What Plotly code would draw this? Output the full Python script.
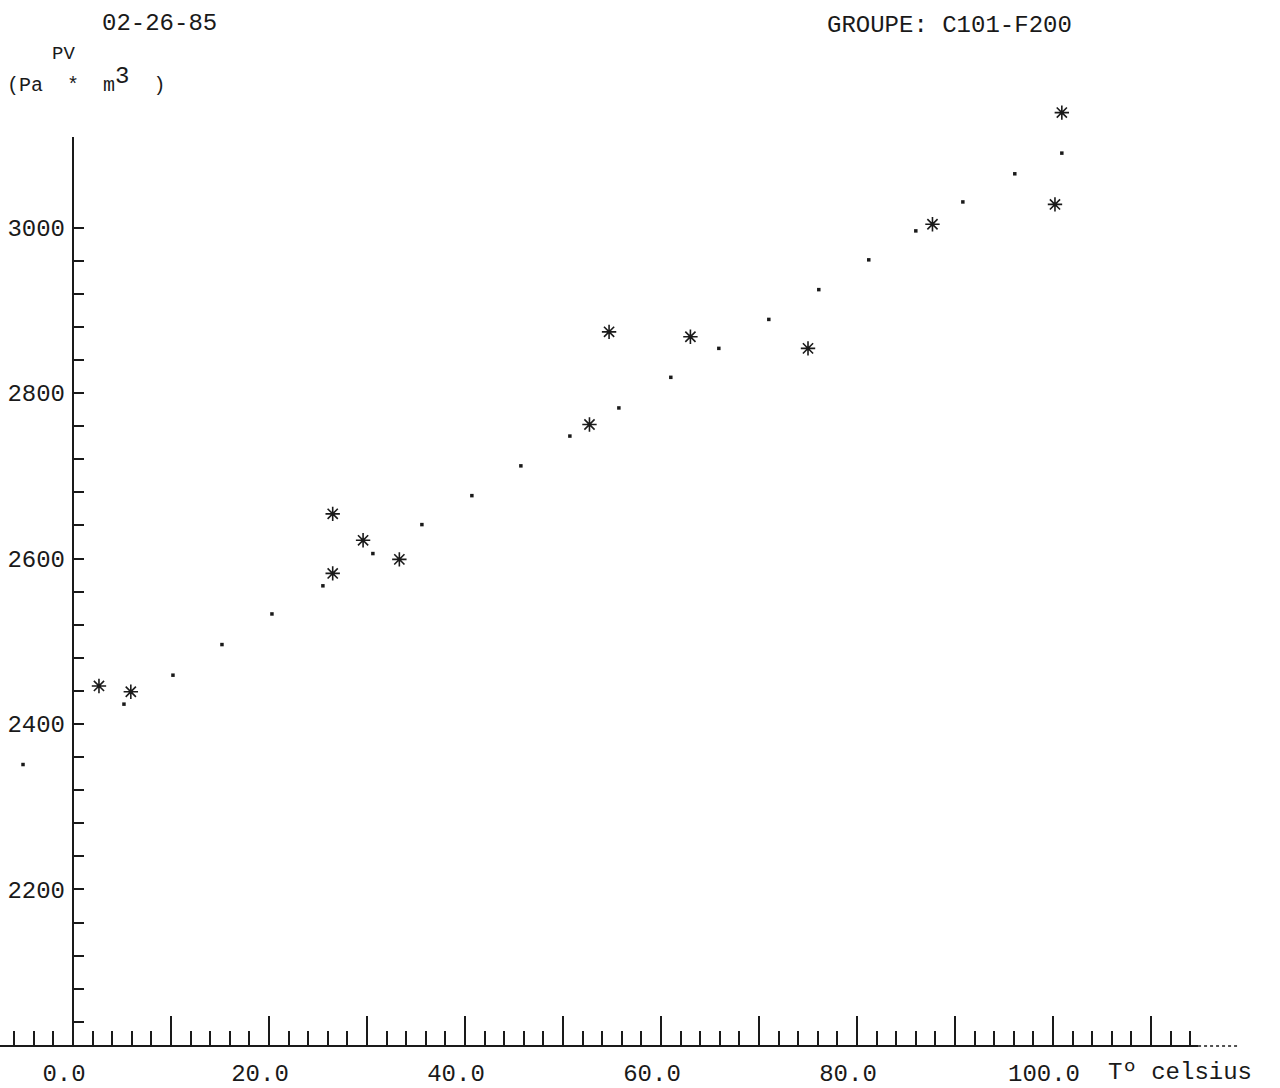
import plotly.graph_objects as go

# ---- data ----
dot_x = [-5.1, 5.2, 10.2, 15.2, 20.3, 25.5, 30.6, 35.6, 40.7, 45.7, 50.7,
         55.7, 61.0, 65.9, 71.0, 76.1, 81.2, 86.0, 90.8, 96.1, 100.9]
dot_y = [2351, 2424, 2459, 2496, 2533, 2567, 2606, 2641, 2676, 2712, 2748,
         2782, 2819, 2854, 2889, 2925, 2961, 2996, 3031, 3065, 3090]

star_x = [2.65, 5.9, 26.5, 26.5, 29.6, 33.3, 52.7, 54.7, 63.0, 75.0, 87.7, 100.2, 100.9]
star_y = [2446, 2439, 2654, 2582, 2622, 2599, 2762, 2874, 2868, 2854, 3004, 3028, 3139]

x_label_vals = [0, 20, 40, 60, 80, 100]
x_label_text = ["0.0", "20.0", "40.0", "60.0", "80.0", "100.0"]
x_long_unlabeled = [10, 30, 50, 70, 90, 110]
x_minor = [v for v in range(-6, 115, 2) if v % 10 != 0]

y_major = [2200, 2400, 2600, 2800, 3000]
y_major_text = ["2200", "2400", "2600", "2800", "3000"]
y_minor = [v for v in range(2040, 3000, 40) if v % 200 != 0]

X_RANGE = [-7.449, 119.08]
Y_RANGE = [2010.8, 3154.2]
Y_AXIS_TOP = 3109.6
X_AXIS_SOLID_END = 114.8

INK = "#1a1a1a"
FONT = "Liberation Mono"

fig = go.Figure()
fig.add_trace(go.Scatter(
    x=dot_x, y=dot_y, mode="markers",
    marker=dict(symbol="square", size=3.5, color=INK),
    cliponaxis=False, hoverinfo="skip"))
fig.add_trace(go.Scatter(
    x=star_x, y=star_y, mode="markers",
    marker=dict(symbol="asterisk-open", size=12, color=INK,
                line=dict(color=INK, width=1.6)),
    cliponaxis=False, hoverinfo="skip"))
# empty trace so the overlay axis (long unlabeled ticks) is drawn
fig.add_trace(go.Scatter(x=[], y=[], xaxis="x2", yaxis="y", hoverinfo="skip"))

# axis lines
fig.add_shape(type="line", xref="x", yref="paper", x0=X_RANGE[0], x1=X_AXIS_SOLID_END,
              y0=0, y1=0, line=dict(color=INK, width=2))
fig.add_shape(type="line", xref="x", yref="paper", x0=X_AXIS_SOLID_END, x1=X_RANGE[1],
              y0=0, y1=0, line=dict(color=INK, width=1.5, dash="dot"))
fig.add_shape(type="line", xref="x", yref="y", x0=0, x1=0,
              y0=Y_RANGE[0], y1=Y_AXIS_TOP, line=dict(color=INK, width=2))

tick_font = dict(family=FONT, size=24, color=INK)

fig.update_layout(
    width=1280, height=1088,
    margin=dict(l=0, r=40, t=100, b=39),
    paper_bgcolor="white", plot_bgcolor="white",
    showlegend=False,
    font=dict(family=FONT, color=INK),
    xaxis=dict(
        range=X_RANGE, showgrid=False, zeroline=False, showline=False,
        tickmode="array", tickvals=x_label_vals, ticktext=x_label_text,
        ticks="inside", ticklen=30, tickwidth=1.5, tickcolor=INK,
        ticklabelshift=-9, ticklabelstandoff=10,
        tickfont=tick_font,
        minor=dict(tickmode="array", tickvals=x_minor, ticks="inside",
                   ticklen=15, tickwidth=1.5, tickcolor=INK, showgrid=False),
    ),
    xaxis2=dict(
        overlaying="x", matches="x", anchor="y", side="bottom",
        range=X_RANGE, showgrid=False, zeroline=False, showline=False,
        tickmode="array", tickvals=x_long_unlabeled, showticklabels=False,
        ticks="inside", ticklen=30, tickwidth=1.5, tickcolor=INK,
    ),
    yaxis=dict(
        range=Y_RANGE, showgrid=False, zeroline=False,
        anchor="free", position=73 / 1240,
        showline=False,
        tickmode="array", tickvals=y_major, ticktext=y_major_text,
        ticks="inside", ticklen=10, tickwidth=1.5, tickcolor=INK,
        ticklabelstandoff=8,
        tickfont=tick_font,
        minor=dict(tickmode="array", tickvals=y_minor, ticks="inside",
                   ticklen=10, tickwidth=1.5, tickcolor=INK, showgrid=False),
    ),
)

TOP = 100
PLOT_H = 1088 - 100 - 39

def px_to_paper(px, py):
    return px / 1240, 1 - (py - TOP) / PLOT_H

annots = [
    ("02-26-85", 100, 23, 24),
    ("PV", 50, 54, 19),
    ("(Pa  *  m<sup><span style='font-size:24px'>3</span></sup>  )", 5, 80, 20),
    ("GROUPE: C101-F200", 825, 25, 24),
    ("Tº celsius", 1106, 1076, 24),
]
for text, px, py, size in annots:
    xp, yp = px_to_paper(px, py)
    fig.add_annotation(text=text, x=xp, y=yp, xref="paper", yref="paper",
                       xanchor="left", yanchor="middle", showarrow=False,
                       font=dict(family=FONT, size=size, color=INK))

fig.write_html("out.html")
